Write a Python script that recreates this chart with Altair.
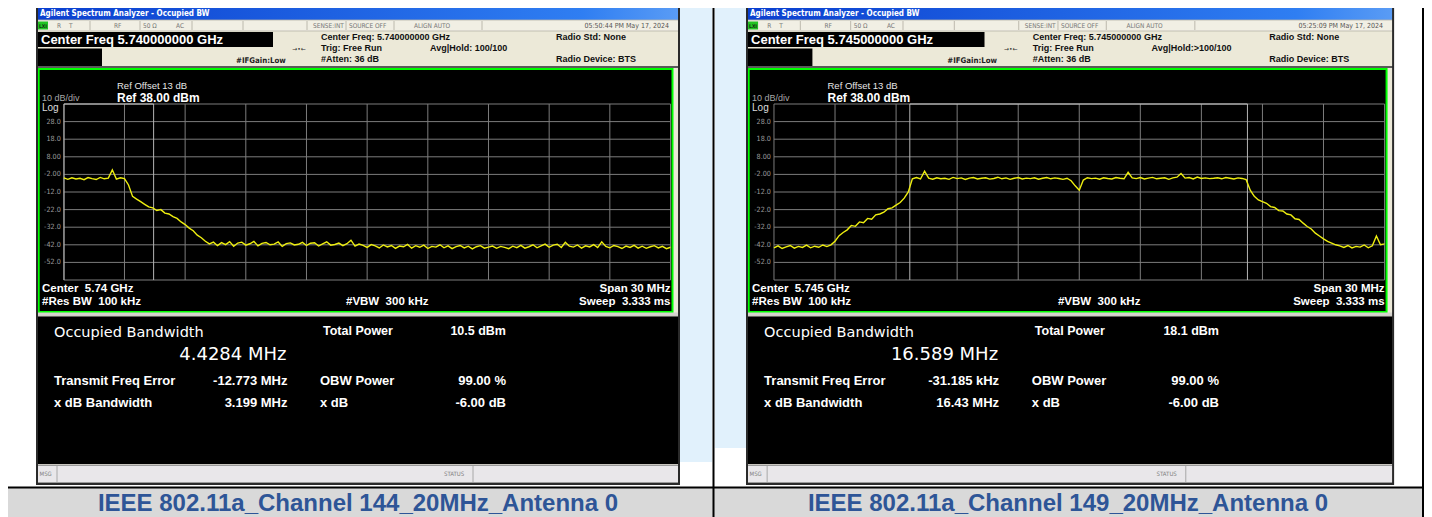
import altair as alt
import pandas as pd

# ---------------- data ----------------
FREQ_MHZ = [
    -15.0, -14.8, -14.6, -14.4, -14.2, -14.0, -13.8, -13.6, -13.4, -13.2,
    -13.0, -12.8, -12.6, -12.4, -12.2, -12.0, -11.8, -11.6, -11.4, -11.2,
    -11.0, -10.8, -10.6, -10.4, -10.2, -10.0, -9.8, -9.6, -9.4, -9.2,
    -9.0, -8.8, -8.6, -8.4, -8.2, -8.0, -7.8, -7.6, -7.4, -7.2,
    -7.0, -6.8, -6.6, -6.4, -6.2, -6.0, -5.8, -5.6, -5.4, -5.2,
    -5.0, -4.8, -4.6, -4.4, -4.2, -4.0, -3.8, -3.6, -3.4, -3.2,
    -3.0, -2.8, -2.6, -2.4, -2.2, -2.0, -1.8, -1.6, -1.4, -1.2,
    -1.0, -0.8, -0.6, -0.4, -0.2, 0.0, 0.2, 0.4, 0.6, 0.8,
    1.0, 1.2, 1.4, 1.6, 1.8, 2.0, 2.2, 2.4, 2.6, 2.8,
    3.0, 3.2, 3.4, 3.6, 3.8, 4.0, 4.2, 4.4, 4.6, 4.8,
    5.0, 5.2, 5.4, 5.6, 5.8, 6.0, 6.2, 6.4, 6.6, 6.8,
    7.0, 7.2, 7.4, 7.6, 7.8, 8.0, 8.2, 8.4, 8.6, 8.8,
    9.0, 9.2, 9.4, 9.6, 9.8, 10.0, 10.2, 10.4, 10.6, 10.8,
    11.0, 11.2, 11.4, 11.6, 11.8, 12.0, 12.2, 12.4, 12.6, 12.8,
    13.0, 13.2, 13.4, 13.6, 13.8, 14.0, 14.2, 14.4, 14.6, 14.8,
    15.0,
]

TRACE_CH144_DBM = [
    -4.0, -4.8, -3.9, -4.6, -4.2, -5.0, -3.8, -4.4, -4.9, -3.7,
    -4.5, -4.1, 0.6, -4.7, -3.9, -4.4, -8.0, -14.5, -16.0, -17.5,
    -19.0, -20.5, -21.0, -22.5, -22.0, -24.0, -24.5, -26.0, -27.0, -29.0,
    -30.5, -32.5, -34.0, -36.5, -38.0, -40.0, -41.5, -40.5, -42.5, -40.8,
    -41.9, -40.2, -42.8, -41.0, -40.5, -42.2, -41.4, -40.1, -42.6, -41.2,
    -40.7, -42.0, -41.6, -40.4, -42.9, -41.3, -40.9, -42.1, -41.7, -40.6,
    -42.4, -41.1, -40.8, -42.7, -41.5, -40.3, -42.2, -41.8, -41.0, -42.5,
    -41.4, -39.4, -42.8, -41.6, -42.3, -43.5, -41.9, -42.6, -43.8, -42.1,
    -43.2, -42.4, -44.0, -42.7, -43.1, -41.8, -43.9, -42.5, -43.4, -42.2,
    -44.1, -42.9, -43.3, -42.0, -43.7, -42.6, -44.2, -43.0, -42.4, -43.8,
    -42.8, -44.3, -43.1, -42.5, -43.9, -43.3, -42.7, -44.0, -42.9, -43.5,
    -44.2, -42.8, -43.6, -42.3, -43.9, -43.1, -42.0, -43.7, -42.6, -41.6,
    -43.4, -42.2, -41.7, -43.5, -40.6, -42.8, -43.3, -42.1, -43.9, -42.6,
    -43.2, -41.9, -43.6, -40.3, -42.9, -43.7, -42.4, -43.0, -44.1, -42.7,
    -43.5, -42.3, -43.9, -42.8, -44.0, -43.1, -42.5, -43.8, -42.9, -44.2,
    -43.4,
]

TRACE_CH149_DBM = [
    -43.8, -42.6, -44.1, -43.2, -42.4, -43.9, -42.9, -43.5, -42.2, -43.7,
    -42.8, -43.4, -42.1, -43.0, -42.0, -40.0, -36.8, -35.0, -33.5, -31.0,
    -31.5, -29.0, -29.5, -27.0, -27.5, -25.0, -24.5, -23.5, -21.5, -21.0,
    -19.5, -18.0, -15.5, -12.0, -4.5, -3.8, -4.6, -0.2, -4.1, -4.7,
    -3.9, -4.5, -4.2, -4.8, -3.7, -4.4, -4.0, -4.9, -4.1, -3.8,
    -4.6, -4.2, -3.9, -4.7, -4.3, -3.6, -4.5, -4.0, -4.8, -4.2,
    -3.8, -4.6, -4.1, -4.4, -3.9, -4.7, -4.2, -3.8, -4.5, -4.0,
    -4.3, -4.8, -4.2, -5.6, -8.5, -11.0, -5.2, -3.9, -4.4, -4.1,
    -4.7, -3.9, -4.3, -4.6, -3.8, -4.2, -4.5, -0.8, -4.0, -4.4,
    -3.8, -4.6, -4.1, -3.7, -4.5, -4.2, -3.9, -4.8, -4.0, -3.6,
    -1.5, -4.1, -3.8, -4.6, -3.5, -4.3, -4.0, -4.4, -4.2, -3.9,
    -4.5, -3.8, -4.2, -4.6, -4.0, -4.3, -5.0, -11.0, -14.5, -16.5,
    -17.5, -18.4, -20.3, -20.8, -22.6, -22.8, -24.5, -25.0, -27.2, -27.6,
    -29.7, -31.6, -33.0, -35.4, -37.0, -38.6, -40.1, -41.0, -42.0, -42.6,
    -43.5, -42.4, -43.8, -42.9, -43.3, -42.1, -43.7, -42.6, -37.0, -42.0,
    -41.5,
]

GRID_MHZ = [-15, -12, -9, -6, -3, 0, 3, 6, 9, 12, 15]
GRID_DBM = [38, 28, 18, 8, -2, -12, -22, -32, -42, -52, -62]
LABEL_DBM = [28, 18, 8, -2, -12, -22, -32, -42, -52]
LABEL_TEXT = ["28.0", "18.0", "8.00", "-2.00", "-12.0", "-22.0", "-32.0", "-42.0", "-52.0"]

CENTER_FREQ = ["5.740000000", "5.745000000"]
CENTER_SHORT = ["5.74", "5.745"]
TIMESTAMP = ["05:50:44 PM May 17, 2024", "05:25:09 PM May 17, 2024"]
AVG_HOLD = ["Avg|Hold: 100/100", "Avg|Hold:>100/100"]
OBW_MHZ = [4.4284, 16.589]
OBW_TEXT = ["4.4284 MHz", "16.589 MHz"]
FREQ_ERR_MHZ = [-12.773, -0.031185]
FREQ_ERR_TEXT = ["-12.773 MHz", "-31.185 kHz"]
XDB_BW_TEXT = ["3.199 MHz", "16.43 MHz"]
TOTAL_POWER_TEXT = ["10.5 dBm", "18.1 dBm"]
CAPTIONS = ["IEEE 802.11a_Channel 144_20MHz_Antenna 0", "IEEE 802.11a_Channel 149_20MHz_Antenna 0"]
TRACES = [TRACE_CH144_DBM, TRACE_CH149_DBM]

# ---------------- drawing helpers (reference pixel coordinates) ----------------
OX, OY = 8, 8
W, H = 1416, 509
ONE = pd.DataFrame({"k": [0]})
SANS = "Liberation Sans, Arial, sans-serif"
NARROW = "Liberation Sans Narrow, Arial Narrow, DejaVu Sans Condensed, Liberation Sans, sans-serif"
WIDE = "DejaVu Sans, Verdana, sans-serif"
SP2 = "\u00a0\u00a0"

layers = []


def rect(x0, y0, x1, y1, fill=None, stroke=None, sw=1.0):
    kw = {}
    if fill is None:
        kw["fill"] = "#000000"
        kw["fillOpacity"] = 0
    else:
        kw["fill"] = fill
    if stroke is not None:
        kw["stroke"] = stroke
        kw["strokeWidth"] = sw
    layers.append(
        alt.Chart(ONE).mark_rect(**kw).encode(
            x=alt.value(x0 - OX), x2=alt.value(x1 - OX),
            y=alt.value(y0 - OY), y2=alt.value(y1 - OY)))


def text(s, x, y, size, color="#ffffff", weight="normal", align="left", font=SANS):
    layers.append(
        alt.Chart(ONE).mark_text(text=s, fontSize=size, color=color, fontWeight=weight,
                                 align=align, baseline="middle", font=font).encode(
            x=alt.value(x - OX), y=alt.value(y - OY)))


def hline(x0, x1, y, color, w=1.0):
    layers.append(
        alt.Chart(ONE).mark_rule(color=color, strokeWidth=w).encode(
            x=alt.value(x0 - OX), x2=alt.value(x1 - OX), y=alt.value(y - OY)))


def vline(x, y0, y1, color, w=1.0):
    layers.append(
        alt.Chart(ONE).mark_rule(color=color, strokeWidth=w).encode(
            x=alt.value(x - OX), y=alt.value(y0 - OY), y2=alt.value(y1 - OY)))


# ---------------- page / table background ----------------
rect(OX, OY, OX + W, OY + H, "#ffffff")
rect(679, 5, 712, 462, "#e1f1fc")
rect(715, 5, 746, 448, "#e1f1fc")

# ---------------- the two analyzer screenshots ----------------
SX = [37, 747]
KX = [1.0, 1.0064]
SW = 642
GY0, GY1 = 104, 280

for i in range(2):
    sx, k = SX[i], KX[i]

    def X(rel):
        return sx + k * rel

    # window chrome
    rect(X(0), 6, X(SW), 484, "#ece9d8")
    grad = alt.LinearGradient(gradient="linear",
                              stops=[alt.GradientStop(color="#0a3fcf", offset=0),
                                     alt.GradientStop(color="#2f7ef2", offset=0.85),
                                     alt.GradientStop(color="#5a9cf5", offset=1)],
                              x1=0, x2=1, y1=0, y2=0)
    layers.append(alt.Chart(ONE).mark_rect(fill=grad).encode(
        x=alt.value(X(0) - OX), x2=alt.value(X(SW) - OX), y=alt.value(6 - OY), y2=alt.value(20 - OY)))
    text("Agilent Spectrum Analyzer - Occupied BW", X(3), 13.5, 8, "#ffffff", "bold", font=NARROW)

    # toolbar row
    rect(X(0), 20, X(SW), 31, "#f1efe4", "#b8b4a8", 0.8)
    rect(X(1), 21.5, X(11), 29.5, "#22c322")
    text("LXI", X(6), 25.5, 5, "#103010", "bold", "center", NARROW)
    for sep in [53, 103, 155, 206, 270, 309, 357, 445]:
        vline(X(sep), 21, 30, "#b0aca0", 0.8)
    for s, r in [("R", 20), ("T", 32), ("RF", 77), ("50 Ω", 106), ("AC", 139),
                 ("SENSE:INT", 276), ("SOURCE OFF", 312), ("ALIGN AUTO", 377)]:
        text(s, X(r), 25.5, 6.5, "#777777", font=NARROW)
    text(TIMESTAMP[i], X(632), 25.5, 7, "#555555", align="right", font=NARROW)

    # header
    rect(X(0), 32, X(236), 47, "#000000")
    rect(X(0), 48.5, X(65), 66, "#000000")
    text("Center Freq " + CENTER_FREQ[i] + " GHz", X(4), 40, 13, "#ffffff", "bold")
    text("Center Freq: " + CENTER_FREQ[i] + " GHz", X(284), 37, 9, "#111111", "bold")
    text("Trig: Free Run", X(284), 48, 9, "#111111", "bold")
    text("#Atten: 36 dB", X(284), 59, 9, "#111111", "bold")
    text(AVG_HOLD[i], X(393 + 9 * i), 48, 9, "#111111", "bold")
    text("Radio Std: None", X(519), 37, 9, "#111111", "bold")
    text("Radio Device: BTS", X(519), 59, 9, "#111111", "bold")
    text("#IFGain:Low", X(199), 61, 7.8, "#222222", "bold", font=NARROW)
    text("→•←", X(262), 48.5, 6, "#333333", align="center", font=WIDE)
    hline(X(0), X(SW), 67, "#5a5a5a", 2)

    # graph area
    rect(X(1.7), 69, X(635.5), 312, "#000000", "#00ff00", 2)
    gx0, gx1 = X(26.8), X(633.5)
    xs = alt.Scale(domain=[-15, 15], range=[gx0 - OX, gx1 - OX], nice=False, zero=False)
    ys = alt.Scale(domain=[-62, 38], range=[GY1 - OY, GY0 - OY], nice=False, zero=False)

    layers.append(alt.Chart(pd.DataFrame({"f": GRID_MHZ})).mark_rule(color="#7c7c7c", strokeWidth=1).encode(
        x=alt.X("f:Q", scale=xs, axis=None), y=alt.value(GY0 - OY), y2=alt.value(GY1 - OY)))
    layers.append(alt.Chart(pd.DataFrame({"d": GRID_DBM})).mark_rule(color="#7c7c7c", strokeWidth=1).encode(
        y=alt.Y("d:Q", scale=ys, axis=None), x=alt.value(gx0 - OX), x2=alt.value(gx1 - OX)))
    layers.append(alt.Chart(pd.DataFrame({"d": LABEL_DBM, "t": LABEL_TEXT})).mark_text(
        align="right", baseline="middle", fontSize=7.2, color="#9c9c9c", font=NARROW).encode(
        y=alt.Y("d:Q", scale=ys, axis=None), x=alt.value(X(23.8) - OX), text="t:N"))

    lo = FREQ_ERR_MHZ[i] - OBW_MHZ[i] / 2
    hi = FREQ_ERR_MHZ[i] + OBW_MHZ[i] / 2
    layers.append(alt.Chart(pd.DataFrame({"f": [lo, hi]})).mark_rule(color="#b4b4b4", strokeWidth=1).encode(
        x=alt.X("f:Q", scale=xs, axis=None), y=alt.value(GY0 - OY), y2=alt.value(GY1 - OY)))
    layers.append(alt.Chart(pd.DataFrame({"a": [lo], "b": [hi]})).mark_rule(color="#cfcfcf", strokeWidth=1).encode(
        x=alt.X("a:Q", scale=xs, axis=None), x2="b:Q", y=alt.value(GY0 - OY)))

    layers.append(alt.Chart(pd.DataFrame({"f": FREQ_MHZ, "p": TRACES[i]})).mark_line(
        color="#eeee10", strokeWidth=1.4).encode(
        x=alt.X("f:Q", scale=xs, axis=None), y=alt.Y("p:Q", scale=ys, axis=None)))

    text("Ref Offset 13 dB", X(80), 86, 9.5, "#e6e6e6")
    text("Ref 38.00 dBm", X(80), 97.5, 12, "#ffffff", "bold")
    text("10 dB/div", X(5), 98, 9, "#a8a8a8")
    text("Log", X(5), 108, 10, "#dddddd")
    text("Center" + SP2 + CENTER_SHORT[i] + " GHz", X(5), 288.5, 11.5, "#ffffff", "bold")
    text("#Res BW" + SP2 + "100 kHz", X(5), 302, 11.5, "#ffffff", "bold")
    text("#VBW" + SP2 + "300 kHz", X(309), 302, 11.5, "#ffffff", "bold")
    text("Span 30 MHz", gx1, 288.5, 11.5, "#ffffff", "bold", "right")
    text("Sweep" + SP2 + "3.333 ms", gx1, 302, 11.5, "#ffffff", "bold", "right")

    # measurement area
    rect(X(0), 312.5, X(SW), 316, "#d6d3ce")
    rect(X(0), 316, X(SW), 464.5, "#000000", "#c9c6c0", 1)
    text("Occupied Bandwidth", X(17), 333, 14.5, "#ffffff", font=WIDE)
    text(OBW_TEXT[i], X(249.5), 354.5, 18, "#ffffff", align="right", font=WIDE)
    text("Total Power", X(286), 331, 12.5, "#ffffff", "bold")
    text(TOTAL_POWER_TEXT[i], X(469), 331, 12.5, "#ffffff", "bold", "right")
    text("Transmit Freq Error", X(17), 381, 13, "#ffffff", "bold")
    text(FREQ_ERR_TEXT[i], X(250.5), 381, 13, "#ffffff", "bold", "right")
    text("OBW Power", X(283), 381, 13, "#ffffff", "bold")
    text("99.00 %", X(469), 381, 13, "#ffffff", "bold", "right")
    text("x dB Bandwidth", X(17), 403, 13, "#ffffff", "bold")
    text(XDB_BW_TEXT[i], X(250.5), 403, 13, "#ffffff", "bold", "right")
    text("x dB", X(283), 403, 13, "#ffffff", "bold")
    text("-6.00 dB", X(469), 403, 13, "#ffffff", "bold", "right")

    # status bar
    rect(X(0), 465.5, X(SW), 482.5, "#e9e7ea", "#9a9a9a", 1)
    vline(X(20), 466, 482, "#a8a8a8")
    vline(X(436), 466, 482, "#a8a8a8")
    text("MSG", X(2.5), 474, 6, "#808080", font=NARROW)
    text("STATUS", X(407), 474, 6, "#808080", font=NARROW)

    # outer frame of the screenshot
    rect(X(0), 6, X(SW), 484, None, "#2a2a2a", 2)

# ---------------- table borders and caption row ----------------
rect(OX, 488, 1423, 517, "#d9d9d9")
hline(OX, 1424, 487.5, "#000000", 2)
vline(713.5, 3, 517, "#000000", 2)
vline(1423, 3, 517, "#000000", 2)
text(CAPTIONS[0], 358, 503.5, 24, "#2e5597", "bold", "center")
text(CAPTIONS[1], 1068, 503.5, 24, "#2e5597", "bold", "center")

chart = alt.layer(*layers).resolve_scale(x="independent", y="independent").properties(
    width=W, height=H, padding=0, autosize=alt.AutoSizeParams(type="none"),
    background="#ffffff",
).configure_view(stroke=None)

chart.save("out.html", embed_options={"renderer": "svg", "actions": False})
